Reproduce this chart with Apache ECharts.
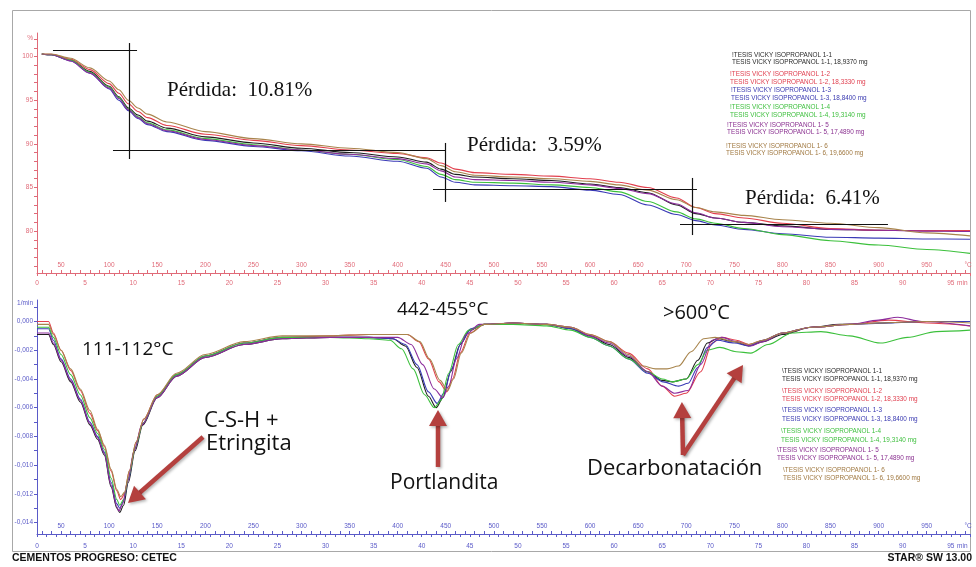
<!DOCTYPE html>
<html>
<head>
<meta charset="utf-8">
<script src="https://cdn.jsdelivr.net/npm/echarts@6/dist/echarts.min.js"></script>
<style>
  html, body { margin: 0; padding: 0; background: #fff; }
  #chart { width: 976px; height: 567px; }
</style>
</head>
<body>
<div id="chart"></div>
<script>
// Samples (TG in %, DTG in 1/min, both against furnace temperature in °C)
const sampleIds = ['1-1', '1-2', '1-3', '1-4', '1- 5', '1- 6'];
const sampleMass = ['18,9370', '18,3330', '18,8400', '19,3140', '17,4890', '19,6600'];
const curveColors = ['#1e1e1e', '#e2404e', '#3a3ab6', '#3cc03c', '#8c2c9c', '#a8844c'];
const legendColors = ['#2a2a2a', '#e04050', '#3838b0', '#40c040', '#8a3090', '#a07840'];

// Temperature tick labels (°C) and time tick labels (min)
const tempLabels = [50, 100, 150, 200, 250, 300, 350, 400, 450, 500, 550, 600, 650, 700, 750, 800, 850, 900, 950];
const timeLabels = [0, 5, 10, 15, 20, 25, 30, 35, 40, 45, 50, 55, 60, 65, 70, 75, 80, 85, 90, 95];
const tgLabels = [80, 85, 90, 95, 100];
const dtgLabels = [0, -0.002, -0.004, -0.006, -0.008, -0.010, -0.012, -0.014];

// TG curves
const tg11 = [[30,100.3],[40,100.2],[60,99.6],[80,98.3],[100,96.6],[110,95.4],[120,94.1],[130,93.3],[140,92.6],[160,91.8],[200,90.8],[250,90.1],[300,89.5],[350,89.0],[400,88.5],[430,87.9],[445,87.1],[460,86.5],[480,86.2],[520,86.0],[560,85.8],[600,85.4],[630,85.0],[660,84.4],[690,83.0],[710,82.0],[730,81.5],[760,81.0],[800,80.6],[850,80.2],[900,80.1],[950,80.05],[995,80.0]];
const tg12 = [[30,100.3],[40,100.25],[60,99.7],[80,98.5],[100,96.9],[110,95.8],[120,94.6],[130,93.7],[140,93.0],[160,92.1],[200,91.1],[250,90.4],[300,89.8],[350,89.3],[400,88.9],[430,88.4],[445,87.8],[460,87.1],[480,86.7],[520,86.5],[560,86.3],[600,86.0],[630,85.6],[660,85.0],[690,83.8],[710,82.7],[730,82.0],[760,81.5],[800,80.9],[850,80.3],[900,80.1],[950,80.05],[995,80.05]];
const tg13 = [[30,100.3],[40,100.2],[60,99.5],[80,98.1],[100,96.3],[110,95.0],[120,93.8],[130,92.9],[140,92.2],[160,91.4],[200,90.4],[250,89.7],[300,89.2],[350,88.6],[400,88.0],[430,87.2],[445,86.2],[460,85.6],[480,85.3],[520,85.2],[560,85.1],[600,84.7],[630,84.2],[660,83.0],[690,81.9],[710,81.2],[730,80.7],[760,80.2],[800,79.7],[850,79.3],[900,79.2],[950,79.1],[995,79.06]];
const tg14 = [[30,100.3],[40,100.2],[60,99.6],[80,98.2],[100,96.5],[110,95.3],[120,94.0],[130,93.1],[140,92.4],[160,91.6],[200,90.6],[250,89.9],[300,89.3],[350,88.8],[400,88.2],[430,87.4],[445,86.5],[460,85.9],[480,85.6],[520,85.5],[560,85.3],[600,85.0],[630,84.5],[660,83.4],[690,82.2],[710,81.4],[730,80.9],[760,80.3],[800,79.6],[850,78.9],[900,78.4],[950,77.9],[995,77.45]];
const tg15 = [[30,100.3],[40,100.2],[60,99.5],[80,98.1],[100,96.4],[110,95.2],[120,93.9],[130,93.0],[140,92.3],[160,91.5],[200,90.5],[250,89.8],[300,89.3],[350,88.8],[400,88.3],[430,87.7],[445,86.9],[460,86.2],[480,85.9],[520,85.8],[560,85.6],[600,85.3],[630,84.9],[660,84.3],[690,83.1],[710,82.1],[730,81.5],[760,81.0],[800,80.5],[850,80.2],[900,80.1],[950,80.0],[995,79.95]];
const tg16 = [[30,100.3],[40,100.3],[60,99.8],[80,98.7],[100,97.2],[110,96.2],[120,95.0],[130,94.1],[140,93.4],[160,92.5],[200,91.4],[250,90.6],[300,90.0],[350,89.5],[400,89.0],[430,88.3],[445,87.5],[460,86.8],[480,86.4],[520,86.2],[560,86.0],[600,85.7],[630,85.3],[660,84.7],[690,83.6],[710,82.7],[730,82.2],[760,81.8],[800,81.3],[850,80.9],[900,80.4],[950,79.8],[995,79.45]];

// DTG curves
const dtg11 = [[25,-0.0009],[37,-0.0009],[42,-0.0016],[50,-0.0028],[60,-0.0042],[70,-0.0056],[80,-0.0072],[88,-0.0082],[95,-0.0093],[102,-0.0115],[108,-0.0130],[111,-0.0133],[115,-0.0128],[120,-0.0112],[127,-0.0090],[135,-0.0072],[150,-0.0053],[170,-0.0038],[200,-0.0025],[240,-0.0016],[280,-0.0012],[330,-0.0011],[370,-0.0011],[395,-0.0012],[408,-0.0017],[420,-0.0032],[432,-0.0052],[440,-0.0060],[447,-0.0053],[455,-0.0035],[465,-0.0016],[475,-0.0006],[490,-0.0002],[520,-0.0001],[555,-0.0002],[580,-0.0005],[600,-0.0010],[620,-0.0016],[640,-0.0025],[660,-0.0035],[675,-0.0041],[686,-0.0042],[700,-0.0040],[712,-0.0027],[722,-0.0015],[732,-0.0012],[750,-0.0014],[765,-0.0017],[780,-0.0014],[800,-0.0009],[830,-0.0004],[860,-0.0002],[900,-0.0001],[950,0.0000],[995,0.0000]];
const dtg12 = [[25,0.0000],[37,0.0000],[42,-0.0008],[50,-0.0020],[60,-0.0034],[70,-0.0048],[80,-0.0064],[88,-0.0076],[95,-0.0087],[102,-0.0104],[108,-0.0118],[112,-0.0124],[116,-0.0120],[121,-0.0104],[128,-0.0084],[136,-0.0068],[150,-0.0051],[170,-0.0037],[200,-0.0024],[240,-0.0015],[280,-0.0011],[330,-0.0010],[370,-0.0009],[410,-0.0009],[422,-0.0014],[432,-0.0026],[443,-0.0042],[451,-0.0049],[457,-0.0040],[465,-0.0022],[475,-0.0008],[490,-0.0002],[520,-0.0001],[555,-0.0002],[580,-0.0004],[600,-0.0009],[620,-0.0014],[640,-0.0022],[660,-0.0033],[675,-0.0045],[688,-0.0052],[700,-0.0050],[715,-0.0035],[727,-0.0015],[737,-0.0011],[752,-0.0013],[765,-0.0016],[780,-0.0013],[800,-0.0008],[830,-0.0004],[870,-0.0002],[910,0.0001],[950,-0.0001],[995,-0.0003]];
const dtg13 = [[25,-0.0005],[37,-0.0005],[42,-0.0013],[50,-0.0026],[60,-0.0040],[70,-0.0054],[80,-0.0070],[88,-0.0080],[95,-0.0091],[102,-0.0112],[108,-0.0127],[111,-0.0130],[115,-0.0125],[120,-0.0110],[127,-0.0088],[135,-0.0071],[150,-0.0052],[170,-0.0037],[200,-0.0024],[240,-0.0015],[280,-0.0011],[330,-0.0011],[370,-0.0011],[395,-0.0012],[408,-0.0016],[420,-0.0030],[432,-0.0049],[441,-0.0057],[448,-0.0050],[456,-0.0033],[466,-0.0015],[476,-0.0005],[490,-0.0002],[520,-0.0001],[555,-0.0002],[580,-0.0005],[600,-0.0011],[620,-0.0017],[640,-0.0026],[660,-0.0036],[676,-0.0042],[692,-0.0045],[702,-0.0043],[712,-0.0032],[722,-0.0018],[732,-0.0013],[750,-0.0015],[765,-0.0017],[780,-0.0013],[800,-0.0008],[830,-0.0004],[870,-0.0002],[910,-0.0001],[950,0.0000],[995,0.0000]];
const dtg14 = [[25,-0.0004],[37,-0.0004],[42,-0.0011],[50,-0.0023],[60,-0.0037],[70,-0.0051],[80,-0.0067],[88,-0.0078],[95,-0.0089],[102,-0.0109],[108,-0.0124],[111,-0.0128],[115,-0.0124],[120,-0.0109],[127,-0.0088],[135,-0.0071],[150,-0.0052],[170,-0.0037],[200,-0.0024],[240,-0.0015],[280,-0.0011],[330,-0.0011],[370,-0.0012],[392,-0.0013],[404,-0.0019],[416,-0.0033],[428,-0.0051],[438,-0.0060],[445,-0.0055],[453,-0.0036],[463,-0.0016],[474,-0.0006],[490,-0.0002],[520,-0.0002],[555,-0.0003],[580,-0.0006],[600,-0.0011],[620,-0.0017],[640,-0.0026],[660,-0.0035],[675,-0.0040],[686,-0.0042],[700,-0.0040],[712,-0.0030],[722,-0.0020],[735,-0.0018],[752,-0.0021],[767,-0.0022],[785,-0.0016],[810,-0.0008],[840,-0.0007],[870,-0.0010],[902,-0.0015],[930,-0.0011],[960,-0.0007],[995,-0.0006]];
const dtg15 = [[25,-0.0008],[37,-0.0008],[42,-0.0015],[50,-0.0027],[60,-0.0041],[70,-0.0055],[80,-0.0071],[88,-0.0081],[95,-0.0092],[102,-0.0114],[108,-0.0129],[110,-0.0132],[114,-0.0127],[119,-0.0112],[126,-0.0090],[134,-0.0072],[150,-0.0053],[170,-0.0038],[200,-0.0025],[240,-0.0016],[280,-0.0012],[330,-0.0011],[370,-0.0011],[400,-0.0011],[414,-0.0016],[426,-0.0030],[438,-0.0047],[447,-0.0053],[453,-0.0045],[461,-0.0026],[471,-0.0009],[485,-0.0002],[520,-0.0001],[555,-0.0002],[580,-0.0004],[600,-0.0010],[620,-0.0015],[640,-0.0024],[660,-0.0035],[675,-0.0045],[688,-0.0050],[702,-0.0048],[715,-0.0030],[727,-0.0013],[737,-0.0011],[752,-0.0014],[767,-0.0017],[780,-0.0014],[800,-0.0008],[830,-0.0004],[870,-0.0002],[900,0.0001],[920,0.0003],[945,0.0000],[995,-0.0003]];
const dtg16 = [[25,-0.0002],[37,-0.0002],[42,-0.0009],[50,-0.0020],[60,-0.0033],[70,-0.0047],[80,-0.0062],[88,-0.0075],[95,-0.0086],[102,-0.0103],[108,-0.0117],[112,-0.0122],[116,-0.0119],[121,-0.0104],[128,-0.0084],[136,-0.0068],[150,-0.0051],[170,-0.0036],[200,-0.0023],[240,-0.0014],[280,-0.0010],[330,-0.0010],[370,-0.0009],[410,-0.0009],[423,-0.0014],[433,-0.0026],[444,-0.0041],[452,-0.0048],[458,-0.0040],[466,-0.0022],[476,-0.0008],[490,-0.0002],[520,-0.0001],[555,-0.0002],[580,-0.0004],[600,-0.0009],[620,-0.0014],[640,-0.0023],[655,-0.0031],[668,-0.0033],[680,-0.0033],[692,-0.0031],[705,-0.0021],[718,-0.0012],[730,-0.0011],[750,-0.0014],[765,-0.0016],[780,-0.0013],[800,-0.0008],[830,-0.0004],[870,-0.0002],[900,-0.0001],[950,0.0000],[995,-0.0001]];

const tgCurves = [tg11, tg12, tg13, tg14, tg15, tg16];
const dtgCurves = [dtg11, dtg12, dtg13, dtg14, dtg15, dtg16];

// Step evaluation construction lines on the TG plot (°C, %)
const stepLines = [
  [[41.6, 100.67], [129, 100.67]],
  [[120.6, 101.55], [120.6, 88.26]],
  [[104, 89.29], [449.2, 89.29]],
  [[449.2, 90.1], [449.2, 83.34]],
  [[436.7, 84.83], [711.1, 84.83]],
  [[705.9, 86.09], [705.9, 79.55]],
  [[693.5, 80.82], [909.7, 80.82]]
];
const stepLosses = ['10.81', '3.59', '6.41'];

// Arrows on the DTG plot: tail and tip (°C, 1/min)
const peakArrows = [
  [[197.6, -0.00804], [119.6, -0.01264]],
  [[441.9, -0.01013], [441.9, -0.00616]],
  [[696.6, -0.0093], [695.5, -0.00561]],
  [[696.6, -0.0093], [759.0, -0.00303]]
];

const RED = '#e06a78';
const BLUE = '#5a5ac8';
const AXFONT = 'Liberation Sans';
const ARROW = '#b4403e';

function range(a, b, step) {
  const out = [];
  for (let v = a; v <= b + 1e-9; v += step) out.push(+v.toFixed(6));
  return out;
}

function tempAxis(grid, color) {
  return {
    type: 'value', gridIndex: grid, position: 'bottom', min: 25, max: 995,
    axisLine: { show: true, onZero: false, lineStyle: { color, width: 1 } },
    axisTick: { show: true, inside: true, length: 3, customValues: range(30, 990, 10), lineStyle: { color, width: 1 } },
    axisLabel: {
      show: true, inside: true, margin: 4, color, fontSize: 6.5, fontFamily: AXFONT,
      customValues: tempLabels.concat([993]),
      formatter: v => (v > 990 ? '°C' : String(v))
    },
    splitLine: { show: false }
  };
}

function timeAxis(grid, color, margin) {
  return {
    type: 'value', gridIndex: grid, position: 'bottom', min: 0, max: 97, interval: 1,
    axisLine: { show: false, onZero: false },
    axisTick: { show: true, inside: false, length: 3, lineStyle: { color, width: 1 } },
    axisLabel: {
      show: true, margin, color, fontSize: 6.5, fontFamily: AXFONT,
      customValues: timeLabels.concat([96.2]),
      formatter: v => (v > 96 ? 'min' : String(v))
    },
    splitLine: { show: false }
  };
}

function curveSeries(name, data, color, xi, yi) {
  return {
    type: 'line', name, data, xAxisIndex: xi, yAxisIndex: yi,
    symbol: 'none', showSymbol: false, smooth: 0.3, smoothMonotone: 'x',
    lineStyle: { color, width: 1.1 }, itemStyle: { color },
    silent: true, z: 3
  };
}

const series = [];
tgCurves.forEach((d, i) => series.push(curveSeries('TG ' + sampleIds[i], d, curveColors[i], 0, 0)));
dtgCurves.forEach((d, i) => series.push(curveSeries('DTG ' + sampleIds[i], d, curveColors[i], 2, 1)));

// construction lines
series[0].markLine = {
  silent: true, symbol: ['none', 'none'], animation: false,
  label: { show: false },
  lineStyle: { color: '#111', width: 1.2, type: 'solid' },
  emphasis: { disabled: true },
  data: stepLines.map(s => [{ coord: s[0] }, { coord: s[1] }])
};

// text blocks
const graphics = [
  { type: 'rect', silent: true, z: -10, shape: { x: 12.5, y: 10.5, width: 958, height: 541 }, style: { fill: 'none', stroke: '#a8a8a8', lineWidth: 1 } }
];
function txt(x, y, text, font, fill, align) {
  graphics.push({ type: 'text', x, y, silent: true, z: 20, style: { text, font, fill, align: align || 'left', verticalAlign: 'middle' } });
}

const serif = '21px "Liberation Serif"';
txt(167, 90, 'Pérdida:  ' + stepLosses[0] + '%', serif, '#111');
txt(467, 145, 'Pérdida:  ' + stepLosses[1] + '%', serif, '#111');
txt(745, 198, 'Pérdida:  ' + stepLosses[2] + '%', serif, '#111');

const sans = s => s + 'px "Open Sans"';
txt(82, 350, '111-112°C', sans(19), '#111');
txt(204, 421, 'C-S-H +', sans(22), '#111');
txt(206, 444, 'Etringita', sans(22), '#111');
txt(397, 310, '442-455°C', sans(19), '#111');
txt(390, 483, 'Portlandita', sans(21), '#111');
txt(663, 313, '>600°C', sans(20), '#111');
txt(587, 469, 'Decarbonatación', sans(22), '#111');

// sample lists
const legendFont = '6.4px "Liberation Sans"';
const tgLegendPos = [[732, 55, 62.5], [730, 74, 82.5], [731, 90, 98.5], [730, 107, 115.5], [727, 125, 132.5], [726, 146, 153.5]];
const dtgLegendPos = [[782, 371, 379], [782, 391, 399], [782, 410.5, 419], [781, 431.5, 440], [777, 450, 458], [783, 470, 478]];
sampleIds.forEach((id, i) => {
  const p = tgLegendPos[i];
  txt(p[0], p[1], '!TESIS VICKY ISOPROPANOL ' + id, legendFont, legendColors[i]);
  txt(p[0], p[2], 'TESIS VICKY ISOPROPANOL ' + id + ', ' + sampleMass[i] + ' mg', legendFont, legendColors[i]);
  const q = dtgLegendPos[i];
  txt(q[0], q[1], '\\TESIS VICKY ISOPROPANOL ' + id, legendFont, legendColors[i]);
  txt(q[0], q[2], 'TESIS VICKY ISOPROPANOL ' + id + ', ' + sampleMass[i] + ' mg', legendFont, legendColors[i]);
});

txt(12, 558, 'CEMENTOS PROGRESO: CETEC', 'bold 10.5px "Liberation Sans"', '#111');
txt(972, 558, 'STAR® SW 13.00', 'bold 10.5px "Liberation Sans"', '#111', 'right');

const option = {
  animation: false,
  backgroundColor: '#fff',
  grid: [
    { left: 37, top: 33, width: 933, height: 240, containLabel: false, outerBoundsMode: 'none' },
    { left: 37, top: 300, width: 933, height: 234, containLabel: false, outerBoundsMode: 'none' }
  ],
  xAxis: [tempAxis(0, RED), timeAxis(0, RED, 7), tempAxis(1, BLUE), timeAxis(1, BLUE, 9)],
  yAxis: [
    {
      type: 'value', gridIndex: 0, min: 75.2, max: 102.7,
      axisLine: { show: true, onZero: false, lineStyle: { color: RED, width: 1 } },
      axisTick: { show: true, length: 3, customValues: range(76, 102, 1), lineStyle: { color: RED } },
      axisLabel: {
        show: true, margin: 4, color: RED, fontSize: 6.5, fontFamily: AXFONT,
        customValues: tgLabels.concat([102.1]),
        formatter: v => (v > 101 ? '%' : String(v))
      },
      splitLine: { show: false }
    },
    {
      type: 'value', gridIndex: 1, min: -0.0148, max: 0.0015,
      axisLine: { show: true, onZero: false, lineStyle: { color: BLUE, width: 1 } },
      axisTick: { show: true, length: 3, customValues: range(-0.014, 0.001, 0.001), lineStyle: { color: BLUE } },
      axisLabel: {
        show: true, margin: 4, color: BLUE, fontSize: 6.5, fontFamily: AXFONT,
        customValues: dtgLabels.concat([0.00125]),
        formatter: v => (v > 0.001 ? '1/min' : v.toFixed(3).replace('.', ','))
      },
      splitLine: { show: false }
    }
  ],
  series,
  graphic: graphics
};

const chart = echarts.init(document.getElementById('chart'), null, { renderer: 'canvas' });
chart.setOption(option);

// Arrows: shaft plus triangular head, placed through the DTG axes
const arrowEls = [];
peakArrows.forEach(a => {
  const p0 = chart.convertToPixel({ xAxisIndex: 2, yAxisIndex: 1 }, a[0]);
  const p1 = chart.convertToPixel({ xAxisIndex: 2, yAxisIndex: 1 }, a[1]);
  const dx = p1[0] - p0[0], dy = p1[1] - p0[1];
  const len = Math.hypot(dx, dy);
  const ux = dx / len, uy = dy / len;
  const headLen = 16, headHalf = 9;
  const bx = p1[0] - ux * headLen, by = p1[1] - uy * headLen;
  const shadow = { shadowColor: 'rgba(0,0,0,0.3)', shadowBlur: 3, shadowOffsetX: 1.5, shadowOffsetY: 1.5 };
  arrowEls.push({
    type: 'line', silent: true, z: 15,
    shape: { x1: p0[0], y1: p0[1], x2: bx + ux * 2, y2: by + uy * 2 },
    style: Object.assign({ stroke: ARROW, lineWidth: 4.5, lineCap: 'butt' }, shadow)
  });
  arrowEls.push({
    type: 'polygon', silent: true, z: 15,
    shape: { points: [[p1[0], p1[1]], [bx - uy * headHalf, by + ux * headHalf], [bx + uy * headHalf, by - ux * headHalf]] },
    style: Object.assign({ fill: ARROW }, shadow)
  });
});
chart.setOption({ graphic: graphics.concat(arrowEls) });
</script>
</body>
</html>
